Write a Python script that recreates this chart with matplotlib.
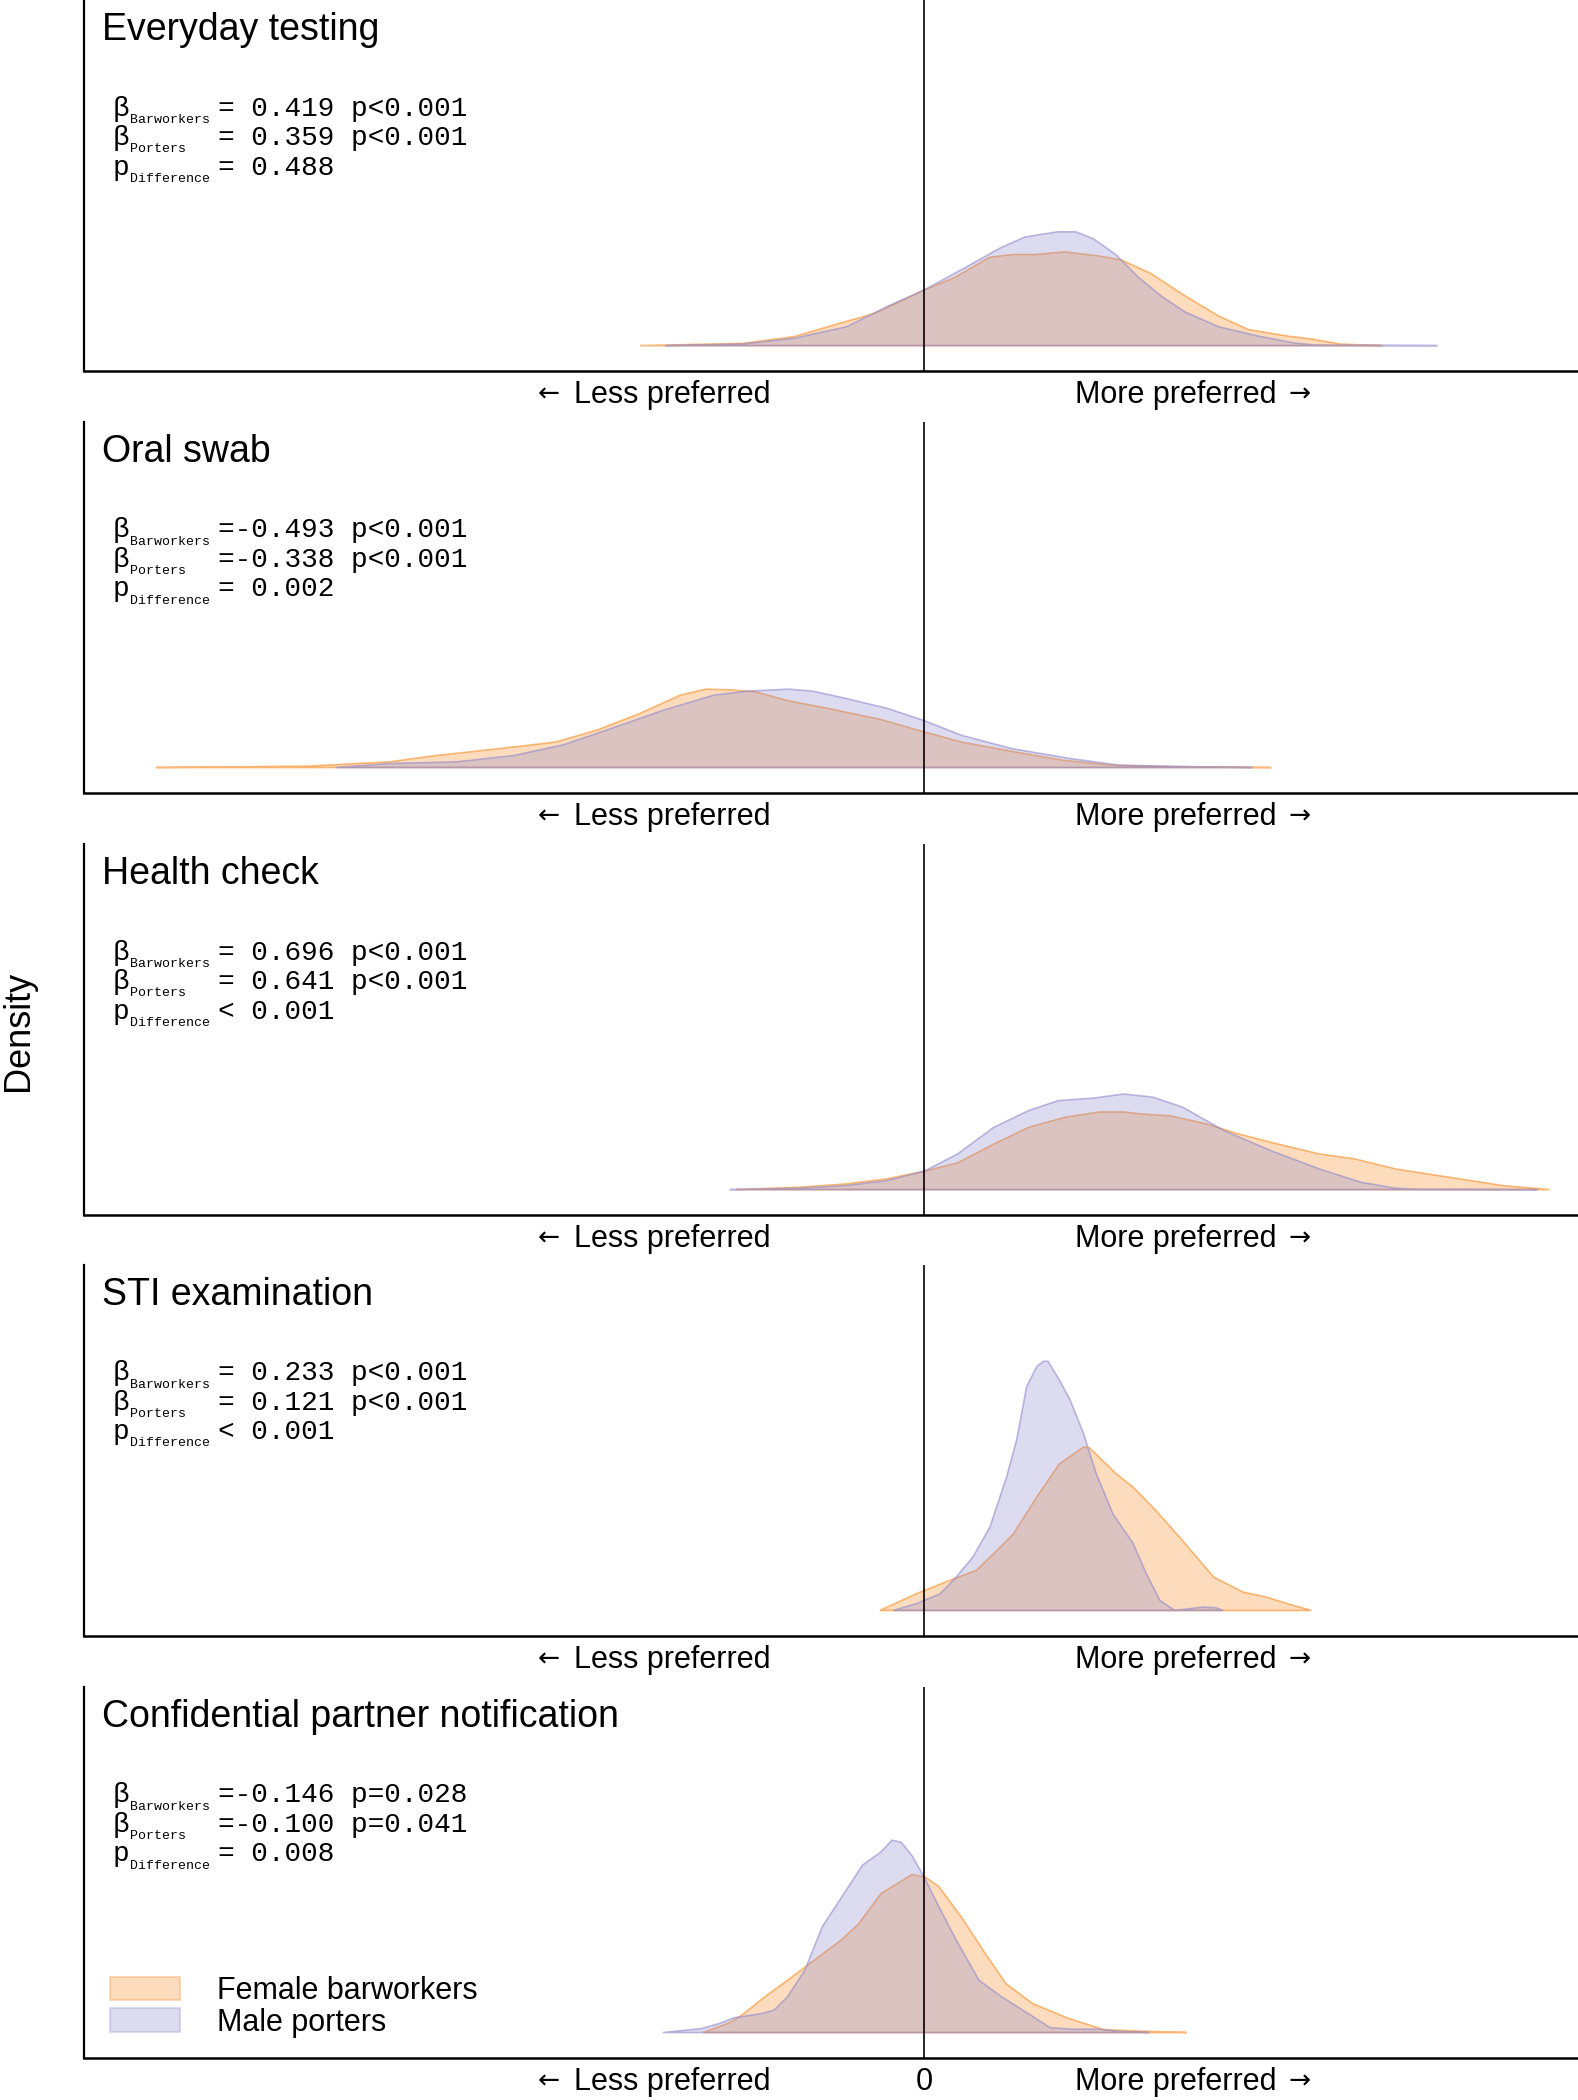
import numpy as np
import matplotlib.pyplot as plt
from matplotlib.patches import Patch

# Attributs et statistiques
titles = ['Everyday testing', 'Oral swab', 'Health check', 'STI examination',
          'Confidential partner notification']
beta_bar = [0.419, -0.493, 0.696, 0.233, -0.146]
p_bar = ['p<0.001', 'p<0.001', 'p<0.001', 'p<0.001', 'p=0.028']
beta_por = [0.359, -0.338, 0.641, 0.121, -0.100]
p_por = ['p<0.001', 'p<0.001', 'p<0.001', 'p<0.001', 'p=0.041']
p_diff = ['= 0.488', '= 0.002', '< 0.001', '< 0.001', '= 0.008']

# Densites (barworkers = orange, porters = violet)
bar_x1 = [-0.848, -0.54, -0.388, -0.252, -0.148, 0.0, 0.092, 0.196, 0.264, 0.332, 0.42, 0.52, 0.588,
          0.676, 0.78, 0.88, 0.968, 1.088, 1.156, 1.24, 1.368]
bar_y1 = [0, 0.017, 0.067, 0.167, 0.24, 0.415, 0.51, 0.66, 0.68, 0.68, 0.70, 0.67, 0.64,
          0.54, 0.37, 0.22, 0.12, 0.07, 0.05, 0.012, 0]
por_x1 = [-0.772, -0.54, -0.388, -0.232, -0.112, 0.0, 0.128, 0.228, 0.30, 0.348, 0.40, 0.452, 0.504,
          0.572, 0.64, 0.708, 0.78, 0.88, 1.0, 1.104, 1.172, 1.532]
por_y1 = [0, 0.012, 0.055, 0.14, 0.29, 0.415, 0.59, 0.73, 0.81, 0.83, 0.85, 0.85, 0.80,
          0.68, 0.51, 0.37, 0.25, 0.14, 0.07, 0.02, 0.003, 0]

bar_x2 = [-2.292, -1.842, -1.596, -1.472, -1.272, -1.10, -0.976, -0.852, -0.728, -0.652, -0.58,
          -0.504, -0.408, -0.284, -0.132, 0.0, 0.112, 0.264, 0.412, 0.56, 0.756, 1.036]
bar_y2 = [0, 0.01, 0.042, 0.085, 0.14, 0.19, 0.28, 0.40, 0.54, 0.585, 0.58,
          0.565, 0.50, 0.44, 0.36, 0.266, 0.19, 0.12, 0.055, 0.017, 0.005, 0]
por_x2 = [-1.756, -1.596, -1.396, -1.224, -1.076, -0.924, -0.776, -0.628, -0.528, -0.404, -0.332,
          -0.232, -0.108, 0.0, 0.112, 0.264, 0.436, 0.584, 0.832, 0.98]
por_y2 = [0, 0.03, 0.042, 0.09, 0.17, 0.30, 0.43, 0.54, 0.57, 0.585, 0.57,
          0.515, 0.44, 0.35, 0.24, 0.14, 0.067, 0.017, 0.005, 0]

bar_x3 = [-0.562, -0.376, -0.236, -0.112, 0.0, 0.10, 0.208, 0.312, 0.42, 0.524, 0.596, 0.648,
          0.736, 0.844, 0.932, 1.056, 1.18, 1.284, 1.408, 1.568, 1.728, 1.868]
bar_y3 = [0, 0.017, 0.042, 0.08, 0.137, 0.20, 0.34, 0.465, 0.54, 0.58, 0.58, 0.565,
          0.55, 0.49, 0.42, 0.34, 0.266, 0.23, 0.154, 0.092, 0.03, 0]
por_x3 = [-0.58, -0.376, -0.236, -0.112, 0.0, 0.10, 0.208, 0.312, 0.40, 0.508, 0.596, 0.684,
          0.772, 0.896, 1.036, 1.18, 1.304, 1.408, 1.48, 1.832]
por_y3 = [0, 0.01, 0.03, 0.067, 0.137, 0.266, 0.465, 0.59, 0.664, 0.684, 0.714, 0.69,
          0.615, 0.44, 0.29, 0.154, 0.055, 0.01, 0.002, 0]

bar_x4 = [-0.132, -0.024, 0.076, 0.156, 0.206, 0.266, 0.336, 0.404, 0.476, 0.494, 0.574, 0.624,
          0.692, 0.772, 0.864, 0.952, 1.022, 1.092, 1.156]
bar_y4 = [0, 0.124, 0.224, 0.30, 0.42, 0.57, 0.846, 1.095, 1.22, 1.214, 1.02, 0.92,
          0.746, 0.52, 0.25, 0.137, 0.10, 0.045, 0]
por_x4 = [-0.092, -0.024, 0.048, 0.096, 0.146, 0.196, 0.246, 0.276, 0.306, 0.336, 0.356, 0.37,
          0.404, 0.436, 0.476, 0.514, 0.564, 0.624, 0.664, 0.704, 0.748, 0.832, 0.872, 0.892]
por_y4 = [0, 0.05, 0.124, 0.25, 0.40, 0.62, 0.995, 1.27, 1.67, 1.82, 1.86, 1.86,
          1.72, 1.57, 1.32, 1.02, 0.72, 0.50, 0.27, 0.075, 0.0, 0.025, 0.02, 0]

bar_x5 = [-0.66, -0.584, -0.544, -0.476, -0.408, -0.328, -0.248, -0.196, -0.128, -0.036, 0.004,
          0.044, 0.112, 0.176, 0.244, 0.324, 0.432, 0.536, 0.632, 0.784]
bar_y5 = [0, 0.07, 0.13, 0.266, 0.39, 0.54, 0.69, 0.81, 1.04, 1.18, 1.16,
          1.09, 0.86, 0.615, 0.366, 0.216, 0.105, 0.022, 0.012, 0]
por_x5 = [-0.78, -0.664, -0.608, -0.568, -0.488, -0.448, -0.408, -0.356, -0.304, -0.236, -0.184,
          -0.128, -0.096, -0.068, -0.036, 0.0, 0.044, 0.096, 0.164, 0.232, 0.312, 0.376, 0.444,
          0.524, 0.576, 0.672]
por_y5 = [0, 0.03, 0.07, 0.11, 0.14, 0.167, 0.266, 0.465, 0.79, 1.05, 1.25,
          1.35, 1.436, 1.42, 1.32, 1.16, 0.94, 0.69, 0.39, 0.266, 0.14, 0.037, 0.025,
          0.025, 0.01, 0]

bar_x = [bar_x1, bar_x2, bar_x3, bar_x4, bar_x5]
bar_y = [bar_y1, bar_y2, bar_y3, bar_y4, bar_y5]
por_x = [por_x1, por_x2, por_x3, por_x4, por_x5]
por_y = [por_y1, por_y2, por_y3, por_y4, por_y5]

orange = '#F88E26'
purple = '#918ACD'
sans = ['Liberation Sans', 'DejaVu Sans']
mono = ['Liberation Mono', 'DejaVu Sans Mono']

fig = plt.figure(figsize=(15.78, 21), dpi=100)

bottoms = [0.8233, 0.6224, 0.4214, 0.2210, 0.0200]
height = 371 / 2100
left = 84 / 1578

for i in range(5):
    ax = fig.add_axes([left, bottoms[i], 1 - left, height])

    ax.fill(bar_x[i], bar_y[i], facecolor=orange, edgecolor='none', alpha=0.3)
    ax.fill(bar_x[i], bar_y[i], facecolor='none', edgecolor=orange, alpha=0.6, lw=1.2)
    ax.fill(por_x[i], por_y[i], facecolor=purple, edgecolor='none', alpha=0.3)
    ax.fill(por_x[i], por_y[i], facecolor='none', edgecolor=purple, alpha=0.6, lw=1.2)

    ax.axvline(0, color='black', lw=1.2)
    ax.set_xlim(-2.508, 1.952)
    ax.set_ylim(-0.19, 2.58)

    for s in ['top', 'right']:
        ax.spines[s].set_visible(False)
    ax.spines['left'].set_linewidth(1.6)
    ax.spines['bottom'].set_linewidth(1.8)
    ax.set_yticks([])
    ax.set_xticks([])

    # Etiquettes de l'axe x (fleches en DejaVu Sans)
    tr = ax.get_xaxis_transform()
    ylab = -0.087
    ax.text(-1.044, ylab, 'Less preferred', transform=tr, fontsize=22, family=sans,
            ha='left', va='baseline')
    ax.text(-1.088, ylab + 0.004, '←', transform=tr, fontsize=19, family='DejaVu Sans',
            ha='right', va='baseline')
    ax.text(1.052, ylab, 'More preferred', transform=tr, fontsize=22, family=sans,
            ha='right', va='baseline')
    ax.text(1.088, ylab + 0.004, '→', transform=tr, fontsize=19, family='DejaVu Sans',
            ha='left', va='baseline')
    if i == 4:
        ax.text(0, ylab, '0', transform=tr, fontsize=22, family=sans,
                ha='center', va='baseline')

    # Titre du panneau
    ax.text(0.012, 0.92, titles[i], transform=ax.transAxes, fontsize=27,
            family=sans, ha='left', va='center')

    # Statistiques
    symbols = ['β', 'β', 'p']
    subs = ['Barworkers', 'Porters', 'Difference']
    values = [f'={beta_bar[i]: .3f} {p_bar[i]}', f'={beta_por[i]: .3f} {p_por[i]}', p_diff[i]]
    for k in range(3):
        y0 = -(108.5 + 29.5 * k) / 1.389
        ax.annotate(symbols[k], xy=(0, 1), xycoords='axes fraction',
                    xytext=(20.5, y0), textcoords='offset points',
                    fontsize=20, family=mono, ha='left', va='center')
        ax.annotate(subs[k], xy=(0, 1), xycoords='axes fraction',
                    xytext=(32.8, y0 - 8), textcoords='offset points',
                    fontsize=9.5, family=mono, ha='left', va='center')
        ax.annotate(values[k], xy=(0, 1), xycoords='axes fraction',
                    xytext=(96.5, y0), textcoords='offset points',
                    fontsize=20, family=mono, ha='left', va='center')

    if i == 4:
        handles = [Patch(facecolor=orange, edgecolor=orange, alpha=0.3, lw=1.5),
                   Patch(facecolor=purple, edgecolor=purple, alpha=0.3, lw=1.5)]
        leg = ax.legend(handles, ['Female barworkers', 'Male porters'], loc='lower left',
                        bbox_to_anchor=(0.007, 0.014), frameon=False, borderpad=0,
                        handlelength=2.3, handleheight=0.8, handletextpad=1.2,
                        labelspacing=0.05, prop={'family': sans, 'size': 22})

fig.text(0.012, 0.509, 'Density', rotation=90, fontsize=26, family=sans,
         ha='center', va='center')

plt.savefig('out.png')
